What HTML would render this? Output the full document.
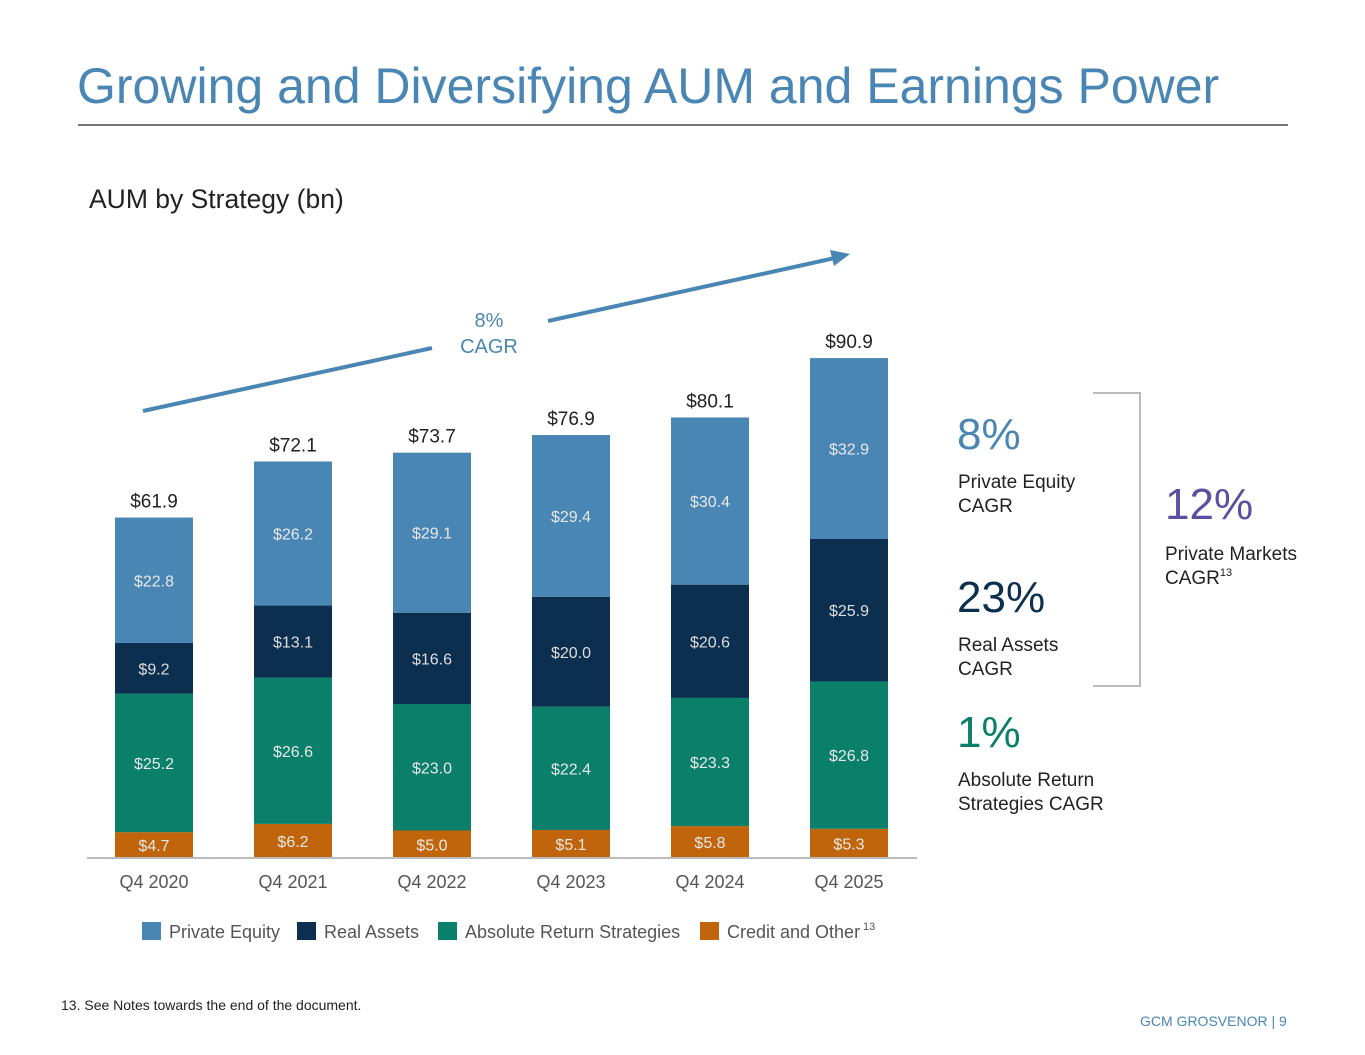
<!DOCTYPE html>
<html><head><meta charset="utf-8"><style>
body{margin:0;background:#fff;font-family:"Liberation Sans",sans-serif;}
#root{position:relative;width:1365px;height:1055px;overflow:hidden;}
.a{position:absolute;white-space:nowrap;}
</style></head><body>
<div id="root">
<div class="a" style="left:77px;top:57px;font-size:50px;color:#4a86b4;">Growing and Diversifying AUM and Earnings Power</div>
<div class="a" style="left:78px;top:124px;width:1210px;height:2px;background:#777;"></div>
<div class="a" style="left:89px;top:184px;font-size:26.5px;color:#222;">AUM by Strategy (bn)</div>
<svg class="a" style="left:0;top:0" width="1365" height="1055" id="chart"></svg>
<div class="a" style="left:957px;top:410px;font-size:44px;color:#4a86b4;">8%</div>
<div class="a" style="left:958px;top:471px;font-size:19px;color:#222;line-height:24px;">Private Equity<br>CAGR</div>
<div class="a" style="left:957px;top:573px;font-size:44px;color:#0d2f4f;">23%</div>
<div class="a" style="left:958px;top:634px;font-size:19px;color:#222;line-height:24px;">Real Assets<br>CAGR</div>
<div class="a" style="left:957px;top:708px;font-size:44px;color:#0a7f6a;">1%</div>
<div class="a" style="left:958px;top:769px;font-size:19px;color:#222;line-height:24px;">Absolute Return<br>Strategies CAGR</div>
<div class="a" style="left:1093px;top:392px;width:46px;height:291px;border:2px solid #bbb;border-left:none;"></div>
<div class="a" style="left:1165px;top:480px;font-size:44px;color:#5a4fa0;">12%</div>
<div class="a" style="left:1165px;top:543px;font-size:19px;color:#222;line-height:24px;">Private Markets<br>CAGR<span style="font-size:11px;vertical-align:8px;line-height:0">13</span></div>
<div class="a" style="left:61px;top:997px;font-size:14px;color:#222;">13. See Notes towards the end of the document.</div>
<div class="a" style="left:1140px;top:1013px;font-size:14px;color:#4a86b4;">GCM GROSVENOR | 9</div>
</div>
<script>
const categories=["Q4 2020","Q4 2021","Q4 2022","Q4 2023","Q4 2024","Q4 2025"];
const credit=[4.7,6.2,5.0,5.1,5.8,5.3];
const ars=[25.2,26.6,23.0,22.4,23.3,26.8];
const realAssets=[9.2,13.1,16.6,20.0,20.6,25.9];
const privateEquity=[22.8,26.2,29.1,29.4,30.4,32.9];
const totals=[61.9,72.1,73.7,76.9,80.1,90.9];
const seriesNames=["Private Equity","Real Assets","Absolute Return Strategies","Credit and Other"];
const NS="http://www.w3.org/2000/svg";
const svg=document.getElementById('chart');
const base=858,scale=5.5,x0=154,step=139,bw=78;
const y=v=>base-v*scale;
const xc=i=>x0+i*step;
function el(t,a,txt){const e=document.createElementNS(NS,t);for(const k in a)e.setAttribute(k,a[k]);if(txt!=null)e.textContent=txt;svg.appendChild(e);return e;}
const series=[[credit,"#c0650c","credit"],[ars,"#0a7f6a","ars"],[realAssets,"#0d2f4f","real-assets"],[privateEquity,"#4a86b4","private-equity"]];
categories.forEach((c,i)=>{
  let cum=0;
  series.forEach(([arr,col,nm])=>{
    const v=arr[i];
    const r=el('rect',{x:xc(i)-bw/2,y:y(cum+v),width:bw,height:v*scale,fill:col});
    
    
    const t=el('text',{x:xc(i),y:y(cum+v/2)+6,'text-anchor':'middle','font-size':16,fill:nm==='real-assets'?'#ddd':'#e8e8e8','font-family':'Liberation Sans'},'$'+v.toFixed(1));
    
    
    cum+=v;
  });
  const tt=el('text',{x:xc(i),y:y(totals[i])-10,'text-anchor':'middle','font-size':19,fill:'#222','font-family':'Liberation Sans'},'$'+totals[i].toFixed(1));
  
  
  const xl=el('text',{x:xc(i),y:888,'text-anchor':'middle','font-size':18,fill:'#555','font-family':'Liberation Sans'},c);
  
  
});
const ax=el('line',{x1:87,x2:917,y1:base,y2:base,stroke:'#bbb','stroke-width':2});


el('line',{x1:143,y1:411,x2:432,y2:348,stroke:'#4a86b4','stroke-width':4});
el('line',{x1:548,y1:321,x2:835,y2:258,stroke:'#4a86b4','stroke-width':4});
const ah=el('polygon',{points:'850,254 830,250 834,266',fill:'#4a86b4'});


el('text',{x:489,y:327,'text-anchor':'middle','font-size':20,fill:'#4a86b4','font-family':'Liberation Sans'},'8%');
el('text',{x:489,y:353,'text-anchor':'middle','font-size':20,fill:'#4a86b4','font-family':'Liberation Sans'},'CAGR');
const legCols=["#4a86b4","#0d2f4f","#0a7f6a","#c0650c"];
const legX=[142,297,438,700];
seriesNames.forEach((n,i)=>{
  const r=el('rect',{x:legX[i],y:922,width:19,height:18,fill:legCols[i]});
  
  
  const t=el('text',{x:legX[i]+27,y:938,'font-size':18,fill:'#555','font-family':'Liberation Sans'},n);
  
  
});
el('text',{x:863,y:930,'font-size':11,fill:'#555','font-family':'Liberation Sans'},'13');
</script>
</body></html>
